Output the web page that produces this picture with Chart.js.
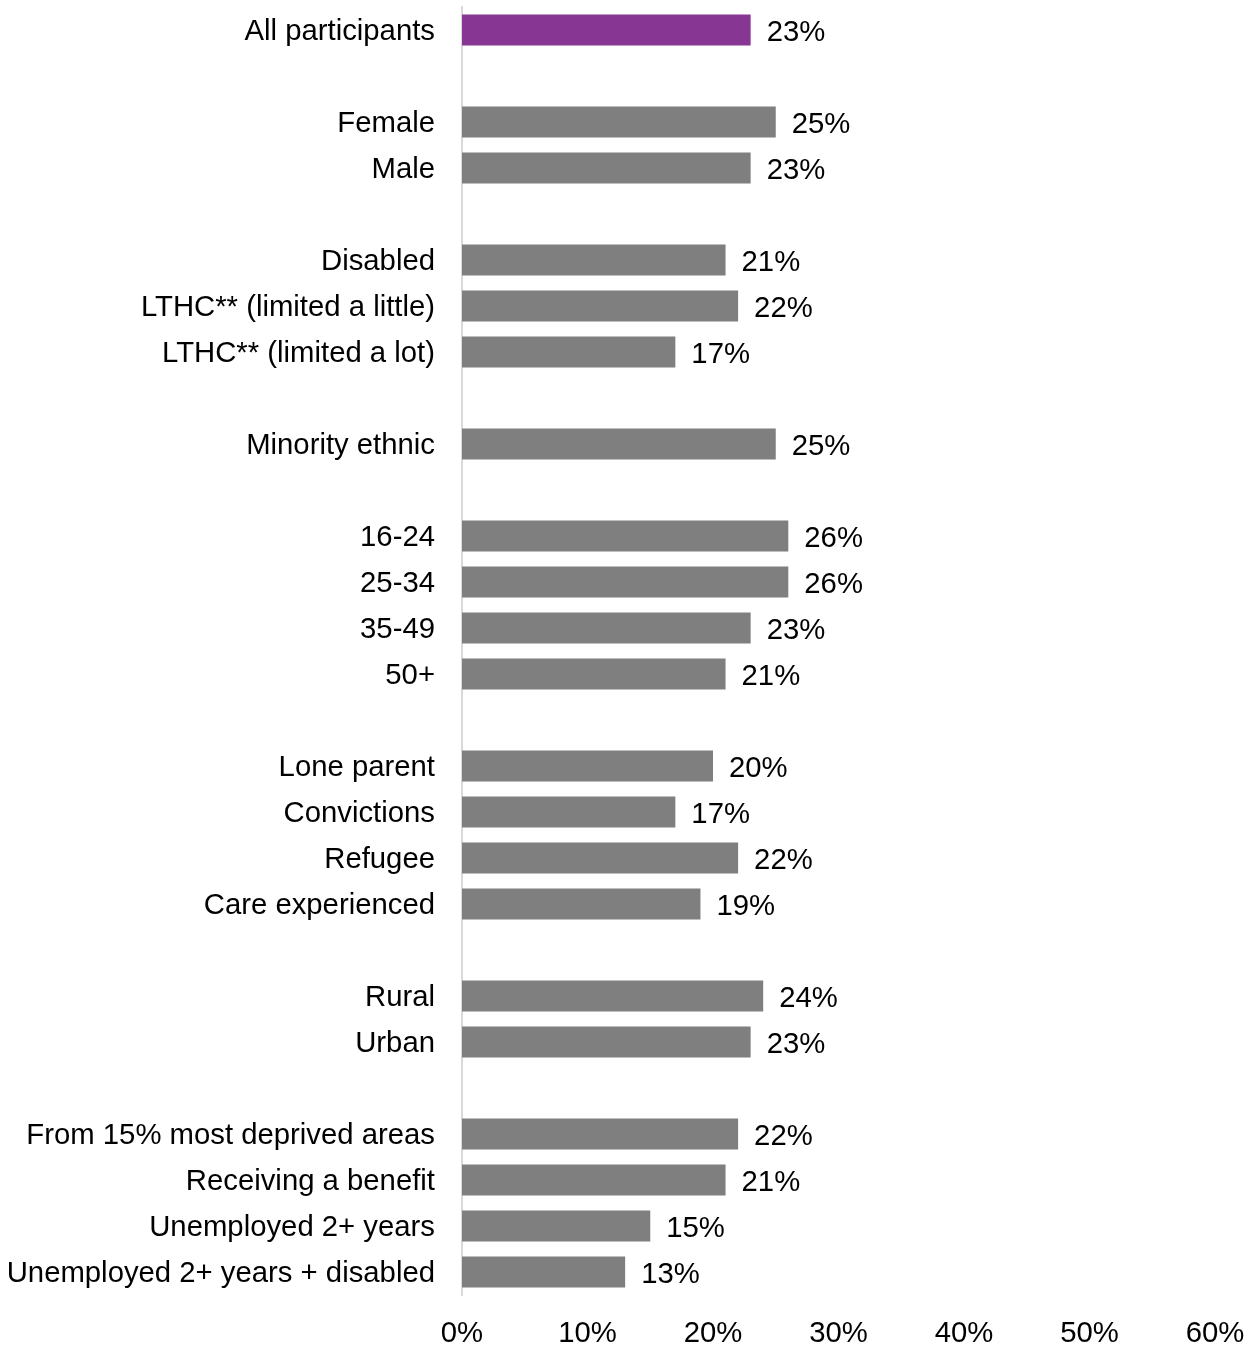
<!DOCTYPE html>
<html>
<head>
<meta charset="utf-8">
<title>Participants by group</title>
<script src="https://cdn.jsdelivr.net/npm/chart.js@4.4.0/dist/chart.umd.min.js"></script>
<style>
  html, body { margin: 0; padding: 0; background: #fff; }
  .chart-wrap { width: 1256px; height: 1347px; position: relative; }
</style>
</head>
<body>
<div class="chart-wrap">
  <canvas id="groupChart"></canvas>
</div>
<script>
// Categories (empty strings are spacer rows between groups)
const categories = [
  'All participants', '',
  'Female', 'Male', '',
  'Disabled', 'LTHC** (limited a little)', 'LTHC** (limited a lot)', '',
  'Minority ethnic', '',
  '16-24', '25-34', '35-49', '50+', '',
  'Lone parent', 'Convictions', 'Refugee', 'Care experienced', '',
  'Rural', 'Urban', '',
  'From 15% most deprived areas', 'Receiving a benefit', 'Unemployed 2+ years', 'Unemployed 2+ years + disabled'
];

// Share of participants (%)
const shares = [
  23, null,
  25, 23, null,
  21, 22, 17, null,
  25, null,
  26, 26, 23, 21, null,
  20, 17, 22, 19, null,
  24, 23, null,
  22, 21, 15, 13
];

const xTickLabels = ['0%', '10%', '20%', '30%', '40%', '50%', '60%'];

const PURPLE = '#873793';
const GREY = '#7f7f7f';
const FONT = { family: '"Liberation Sans", Arial, sans-serif', size: 29.3 };

// Value labels to the right of each bar
const barValueLabels = {
  id: 'barValueLabels',
  afterDatasetsDraw(chart) {
    const ctx = chart.ctx;
    const meta = chart.getDatasetMeta(0);
    ctx.save();
    ctx.font = `${FONT.size}px ${FONT.family}`;
    ctx.fillStyle = '#000';
    ctx.textAlign = 'left';
    ctx.textBaseline = 'middle';
    meta.data.forEach((bar, i) => {
      const v = shares[i];
      if (v === null) return;
      ctx.fillText(v + '%', bar.x + 16, bar.y + 3);
    });
    ctx.restore();
  }
};

const ctx = document.getElementById('groupChart').getContext('2d');
const groupChart = new Chart(ctx, {
  type: 'bar',
  data: {
    labels: categories,
    datasets: [{
      data: shares,
      backgroundColor: shares.map((v, i) => i === 0 ? PURPLE : GREY),
      categoryPercentage: 1,
      barPercentage: 0.67,
      borderWidth: 0
    }]
  },
  options: {
    indexAxis: 'y',
    responsive: true,
    maintainAspectRatio: false,
    animation: false,
    layout: { padding: { top: 7, right: 41, bottom: 0, left: 0 } },
    plugins: {
      legend: { display: false },
      tooltip: { enabled: false }
    },
    scales: {
      x: {
        min: 0,
        max: 60,
        grid: { display: false, drawTicks: false },
        border: { display: false },
        ticks: {
          stepSize: 10,
          padding: 21,
          color: '#000',
          font: FONT,
          maxRotation: 0,
          callback: (value, index) => xTickLabels[index]
        },
        afterFit: scale => {
          scale.height = 52;
          scale.paddingLeft = 0;
          scale.paddingRight = 0;
        }
      },
      y: {
        grid: { display: false, drawTicks: false },
        border: { display: true, color: '#d9d9d9', width: 2 },
        ticks: {
          padding: 27,
          labelOffset: 2,
          color: '#000',
          font: FONT,
          autoSkip: false
        },
        afterFit: scale => {
          scale.width = 462;
          scale.paddingTop = 0;
          scale.paddingBottom = 0;
        }
      }
    }
  },
  plugins: [barValueLabels]
});
</script>
</body>
</html>
